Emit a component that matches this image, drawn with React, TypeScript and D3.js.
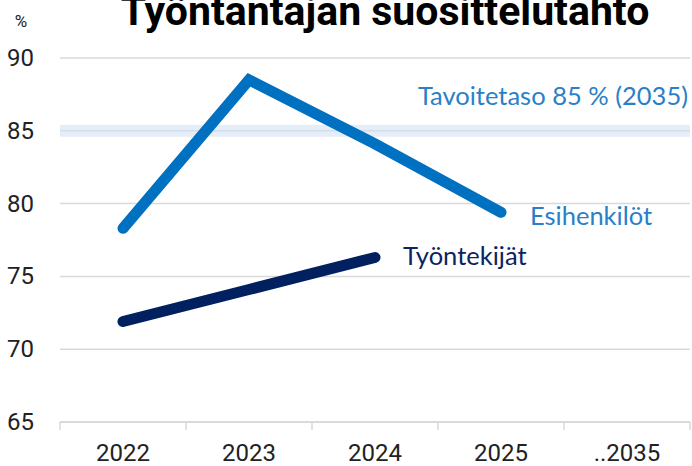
import React from 'react';
import * as d3 from 'd3';

const categories = ['2022', '2023', '2024', '2025', '..2035'];
const esihenkilot = [78.3, 88.5, 84.1, 79.4];
const tyontekijat = [71.9, 74.1, 76.3];
const yTicks = [65, 70, 75, 80, 85, 90];
const target = 85;

const W = 692;
const H = 466;

export default () => {
  const x = d3.scaleBand().domain(categories).range([60, 690]);
  const y = d3.scaleLinear().domain([65, 90]).range([422, 58]);
  const cx = (i: number) => (x(categories[i]) as number) + x.bandwidth() / 2;

  const line = d3
    .line<number>()
    .x((_, i) => cx(i))
    .y((d) => y(d));

  const narrow = '"Liberation Sans Narrow", "Roboto", Arial, sans-serif';
  const label = 'Lato, "Open Sans", sans-serif';

  return (
    <svg
      width={W}
      height={H}
      style={{ position: 'absolute', left: 0, top: 0, background: '#fff' }}
    >
      <text x={385} y={25} textAnchor="middle" fontFamily={narrow} fontWeight="bold" fontSize={41} fill="#000">
        Työntantajan suosittelutahto
      </text>
      <text x={21} y={27} textAnchor="middle" fontFamily={narrow} fontSize={17} fill="#222">
        %
      </text>

      {/* target band */}
      <rect x={60} y={y(target) - 6} width={630} height={12} fill="#e5eef8" />

      {yTicks.map((t) => (
        <g key={t}>
          <line
            x1={60}
            x2={690}
            y1={y(t)}
            y2={y(t)}
            stroke={t === target ? '#d3dde9' : '#d9d9d9'}
            strokeWidth={t === 65 ? 2 : 1.5}
          />
          <text x={34} y={y(t) + 8} textAnchor="end" fontFamily={narrow} fontSize={24} fill="#222">
            {t}
          </text>
        </g>
      ))}

      {d3.range(categories.length + 1).map((i) => {
        const xx = i < categories.length ? (x(categories[i]) as number) : 690;
        return <line key={i} x1={xx} x2={xx} y1={422} y2={430} stroke="#d9d9d9" strokeWidth={1.5} />;
      })}
      {categories.map((c, i) => (
        <text key={c} x={cx(i)} y={461} textAnchor="middle" fontFamily={narrow} fontSize={24} fill="#222">
          {c}
        </text>
      ))}

      <path d={line(esihenkilot) as string} fill="none" stroke="#0070c0" strokeWidth={11} strokeLinecap="round" strokeLinejoin="miter" />
      <path d={line(tyontekijat) as string} fill="none" stroke="#002060" strokeWidth={11} strokeLinecap="round" />

      <text x={688} y={105} textAnchor="end" fontFamily={label} fontSize={25.5} fill="#2a7fc8">
        Tavoitetaso 85 % (2035)
      </text>
      <text x={530} y={225} fontFamily={label} fontSize={25.5} fill="#2a7fc8">
        Esihenkilöt
      </text>
      <text x={403} y={265} fontFamily={label} fontSize={25.5} fill="#0c2463">
        Työntekijät
      </text>
    </svg>
  );
};
